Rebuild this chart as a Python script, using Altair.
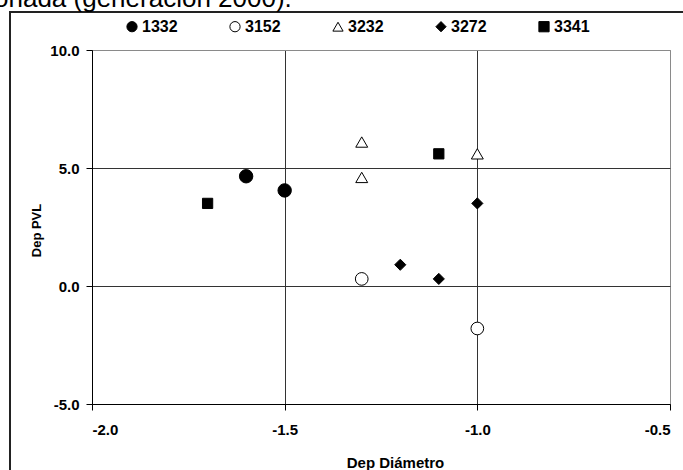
import altair as alt
import pandas as pd

# ---- data ----
series = ["1332", "3152", "3232", "3272", "3341"]

s1332_x = [-1.6, -1.5]
s1332_y = [4.65, 4.05]
s3152_x = [-1.3, -1.0]
s3152_y = [0.3, -1.8]
s3232_x = [-1.3, -1.3, -1.0]
s3232_y = [6.1, 4.6, 5.6]
s3272_x = [-1.2, -1.1, -1.0]
s3272_y = [0.9, 0.3, 3.5]
s3341_x = [-1.7, -1.1]
s3341_y = [3.5, 5.6]

x_ticks = [-2.0, -1.5, -1.0, -0.5]
y_ticks = [-5.0, 0.0, 5.0, 10.0]
caption = ["onada (generación 2000)."]

# ---- styling ----
shapes = ["circle", "circle", "triangle-up", "diamond", "square"]
fills = ["black", "white", "white", "black", "black"]
sizes = [180, 105, 140, 135, 120]
FONT = "Arial, Liberation Sans"

rows = []
for name, xs, ys in [("1332", s1332_x, s1332_y), ("3152", s3152_x, s3152_y),
                     ("3232", s3232_x, s3232_y), ("3272", s3272_x, s3272_y),
                     ("3341", s3341_x, s3341_y)]:
    for a, b in zip(xs, ys):
        rows.append({"serie": name, "grp": name, "x": a, "y": b})
df = pd.DataFrame(rows)
leg_df = pd.DataFrame({"serie": series})

W, H = 578, 354
PL, PT = 92, 50

lab_expr = "datum.value < 0 ? '-' + format(-datum.value, '.1f') : format(datum.value, '.1f')"

shape_enc = alt.Shape("serie:N", scale=alt.Scale(domain=series, range=shapes), legend=None)
fill_enc = alt.Fill("serie:N", scale=alt.Scale(domain=series, range=fills), legend=None)

points = alt.Chart(df).mark_point(filled=True, stroke="black", strokeWidth=1, opacity=1).encode(
    x=alt.X("x:Q", scale=alt.Scale(domain=[-2.0, -0.5], nice=False, zero=False),
            axis=alt.Axis(values=x_ticks, labelExpr=lab_expr, title="Dep Diámetro",
                          titleX=303, titleY=58, titleBaseline="middle",
                          labelPadding=12, tickSize=6,
                          gridColor={"condition": {"test": "datum.value === -0.5", "value": "#8a8a8a"}, "value": "#333333"})),
    y=alt.Y("y:Q", scale=alt.Scale(domain=[-5.0, 10.0], nice=False, zero=False),
            axis=alt.Axis(values=y_ticks, labelExpr=lab_expr, title="Dep PVL",
                          titleX=-56, titleY=180, titleAngle=270, titleBaseline="middle",
                          titleFontSize=13, labelPadding=7, tickSize=6,
                          gridColor={"condition": {"test": "datum.value === 10", "value": "#8a8a8a"}, "value": "#333333"})),
    shape=shape_enc,
    fill=fill_enc,
    size=alt.Size("grp:N", scale=alt.Scale(domain=series, range=sizes), legend=None),
)

# legend row built from the series list, placed by a point scale
leg_x = alt.X("serie:N", scale=alt.Scale(domain=series, range=[40, 452], padding=0), axis=None)
leg_sym = alt.Chart(leg_df).mark_point(filled=True, stroke="black", strokeWidth=1, opacity=1, size=105).encode(
    x=leg_x, y=alt.value(26.7 - PT), shape=shape_enc, fill=fill_enc
)
leg_txt = alt.Chart(leg_df).mark_text(
    align="left", baseline="middle", dx=10, font=FONT, fontSize=16, fontWeight="bold", color="black"
).encode(x=leg_x, y=alt.value(27 - PT), text="serie:N")
legend_layer = alt.layer(leg_sym, leg_txt)

one = pd.DataFrame({"t": caption})

border = alt.Chart(one).mark_rect(fill=None, stroke="#222222", strokeWidth=2).encode(
    x=alt.value(10 - PL), y=alt.value(12 - PT), x2=alt.value(900), y2=alt.value(700)
)

cap = alt.Chart(one).mark_text(
    align="left", baseline="alphabetic", font=FONT, fontSize=26, color="black"
).encode(text="t:N", x=alt.value(-6 - PL), y=alt.value(7 - PT))

chart = alt.layer(border, cap, points, legend_layer).resolve_scale(x="independent").properties(
    width=W, height=H,
    autosize=alt.AutoSizeParams(type="none"),
    padding={"left": PL, "top": PT, "right": 683 - PL - W, "bottom": 470 - PT - H},
).configure_view(stroke="#8a8a8a", strokeWidth=1).configure_axis(
    labelFont=FONT, labelFontSize=15, labelFontWeight="bold", labelColor="black",
    titleFont=FONT, titleFontSize=15, titleFontWeight="bold", titleColor="black",
    domainColor="black", tickColor="black", grid=True, gridWidth=1, gridOpacity=1,
)

chart.save("out.html", embed_options={"renderer": "svg", "actions": False})
